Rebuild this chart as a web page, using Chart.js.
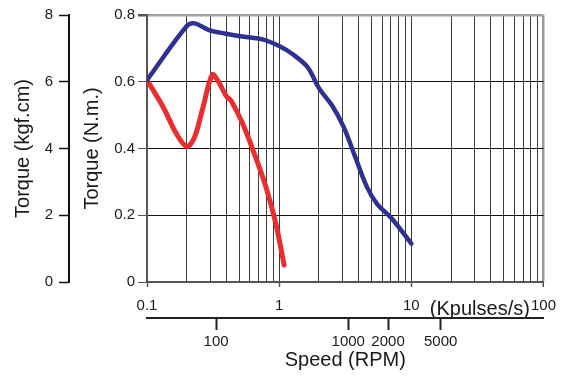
<!DOCTYPE html>
<html lang="en">
<head>
<meta charset="UTF-8" />
<title>Torque vs Speed</title>
<script src="https://cdn.jsdelivr.net/npm/chart.js"></script>
<style>
    html, body { margin: 0; padding: 0; background: #fff; }
    #wrap { width: 566px; height: 376px; position: relative; }
</style>
</head>
<body>
<div id="wrap"><canvas id="torqueChart"></canvas></div>
<script>
    // pull-out torque curves, speed in Kpulses/s, torque in N.m
    const blueSpeed  = [0.1, 0.2, 0.229, 0.298, 0.397, 0.561, 0.749, 1.0, 1.26, 1.63, 2.0, 2.52, 3.08, 3.77, 4.61, 5.48, 7.11, 10];
    const blueTorque = [0.605, 0.767, 0.775, 0.754, 0.744, 0.734, 0.727, 0.707, 0.683, 0.645, 0.581, 0.528, 0.464, 0.374, 0.285, 0.235, 0.19, 0.115];
    const redSpeed   = [0.1, 0.133, 0.167, 0.2, 0.229, 0.265, 0.312, 0.344, 0.397, 0.433, 0.53, 0.649, 0.794, 0.944, 1.09];
    const redTorque  = [0.605, 0.523, 0.444, 0.406, 0.434, 0.523, 0.621, 0.603, 0.558, 0.543, 0.474, 0.384, 0.285, 0.175, 0.051];

    const speedLabels = [0.1, 1, 10, 100];
    const speedUnitAt = 33;            // where "(Kpulses/s)" sits on the axis
    const rpmTicks = [100, 1000, 2000, 5000];
    const rpmPerKpps = 300;            // 200 steps/rev

    const FONT = '"Liberation Sans", Arial, sans-serif';

    function pts(xs, ys) {
        return xs.map((x, i) => ({ x: x, y: ys[i] }));
    }

    function speedGrid() {
        const out = [];
        [0.1, 1, 10].forEach(d => {
            for (let k = 1; k <= 9; k++) out.push(+(k * d).toFixed(3));
        });
        out.push(100);
        out.push(speedUnitAt);
        return out.sort((a, b) => a - b);
    }

    const ctx = document.getElementById('torqueChart').getContext('2d');
    new Chart(ctx, {
        type: 'line',
        data: {
            datasets: [{
                label: 'Pull-out torque (high)',
                data: pts(blueSpeed, blueTorque),
                borderColor: '#2e3192',
                borderWidth: 4.5,
                tension: 0.35,
                pointRadius: 0,
                borderCapStyle: 'round',
                borderJoinStyle: 'round',
                xAxisID: 'x',
                yAxisID: 'y'
            }, {
                label: 'Pull-out torque (low)',
                data: pts(redSpeed, redTorque),
                borderColor: '#ea2d2f',
                borderWidth: 5,
                tension: 0.35,
                pointRadius: 0,
                borderCapStyle: 'round',
                borderJoinStyle: 'round',
                xAxisID: 'x',
                yAxisID: 'y'
            }]
        },
        options: {
            responsive: true,
            maintainAspectRatio: false,
            animation: false,
            layout: { padding: { top: 14, right: 20, left: 0, bottom: 0 } },
            plugins: {
                legend: { display: false },
                tooltip: { enabled: false }
            },
            scales: {
                x: {
                    type: 'logarithmic',
                    position: 'bottom',
                    weight: 0,
                    min: 0.1,
                    max: 100,
                    afterBuildTicks: s => { s.ticks = speedGrid().map(v => ({ value: v })); },
                    afterFit: s => { s.height = 36; },
                    border: { color: '#555', width: 2 },
                    grid: {
                        color: c => {
                            const v = c.tick ? c.tick.value : 0;
                            if (v === speedUnitAt) return 'rgba(0,0,0,0)';
                            if (v === 100) return '#9a9a9a';
                            return '#3c3c3c';
                        },
                        lineWidth: c => (c.tick && c.tick.value === 100) ? 2.5 : 1,
                        tickColor: c => (c.tick && speedLabels.includes(c.tick.value)) ? '#555' : 'rgba(0,0,0,0)',
                        tickLength: 5,
                        tickWidth: 1.5
                    },
                    ticks: {
                        autoSkip: false,
                        maxRotation: 0,
                        padding: 10,
                        color: '#1a1a1a',
                        font: c => (c.tick && c.tick.value === speedUnitAt)
                            ? { family: FONT, size: 20 }
                            : { family: FONT, size: 15 },
                        callback: v => {
                            if (v === speedUnitAt) return '(Kpulses/s)';
                            return speedLabels.includes(v) ? String(v) : '';
                        }
                    }
                },
                x2: {
                    type: 'logarithmic',
                    position: 'bottom',
                    weight: 1,
                    min: 0.1 * rpmPerKpps,
                    max: 100 * rpmPerKpps,
                    afterBuildTicks: s => { s.ticks = rpmTicks.map(v => ({ value: v })); },
                    afterFit: s => { s.height = 58; },
                    border: { color: '#222', width: 2 },
                    grid: {
                        drawOnChartArea: false,
                        color: '#222',
                        tickLength: 12,
                        tickWidth: 2
                    },
                    ticks: {
                        autoSkip: false,
                        maxRotation: 0,
                        padding: 3,
                        color: '#1a1a1a',
                        font: { family: FONT, size: 15 },
                        callback: v => String(v)
                    },
                    title: {
                        display: true,
                        text: 'Speed (RPM)',
                        color: '#1a1a1a',
                        font: { family: FONT, size: 20 },
                        padding: { top: 0, bottom: 4 }
                    }
                },
                y: {
                    position: 'left',
                    weight: 0,
                    min: 0,
                    max: 0.8,
                    afterFit: s => { s.width = 78; },
                    border: { color: '#555', width: 2 },
                    grid: {
                        color: c => (c.tick && c.tick.value >= 0.8) ? '#a0a0a0' : '#111',
                        lineWidth: c => (c.tick && c.tick.value >= 0.8) ? 2.5 : 1,
                        tickColor: '#555',
                        tickLength: 9
                    },
                    ticks: {
                        stepSize: 0.2,
                        padding: 3,
                        color: '#1a1a1a',
                        font: { family: FONT, size: 15 }
                    },
                    title: {
                        display: true,
                        text: 'Torque (N.m.)',
                        color: '#1a1a1a',
                        font: { family: FONT, size: 20 },
                        padding: { top: 11, bottom: 0 }
                    }
                },
                y2: {
                    position: 'left',
                    weight: 1,
                    min: 0,
                    max: 8,
                    afterFit: s => { s.width = 69; },
                    border: { color: '#111', width: 2 },
                    grid: {
                        drawOnChartArea: false,
                        color: '#111',
                        tickLength: 10,
                        tickWidth: 1.5
                    },
                    ticks: {
                        stepSize: 2,
                        padding: 6,
                        color: '#1a1a1a',
                        font: { family: FONT, size: 15 }
                    },
                    title: {
                        display: true,
                        text: 'Torque (kgf.cm)',
                        color: '#1a1a1a',
                        font: { family: FONT, size: 20 },
                        padding: { top: 11, bottom: 0 }
                    }
                }
            }
        }
    });
</script>
</body>
</html>
